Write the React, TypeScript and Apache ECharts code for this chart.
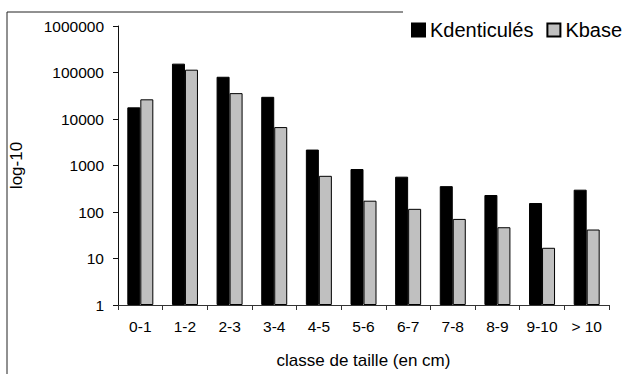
import React, { useEffect, useRef } from "react";
import * as echarts from "echarts";

const categories = ["0-1", "1-2", "2-3", "3-4", "4-5", "5-6", "6-7", "7-8", "8-9", "9-10", "> 10"];
const kdenticules = [17800, 155000, 81000, 30000, 2200, 840, 575, 360, 232, 156, 302];
const kbase = [26500, 115000, 36000, 6700, 600, 175, 117, 71, 47, 17, 42];
const seriesNames = ["Kdenticulés", "Kbase"];

const FONT = "'Liberation Sans', Arial, sans-serif";

export default function App() {
  const ref = useRef<HTMLDivElement>(null);
  useEffect(() => {
    if (!ref.current) return;
    const chart = echarts.init(ref.current, undefined, { renderer: "svg" });
    chart.setOption({
      animation: false,
      backgroundColor: "#ffffff",
      textStyle: { fontFamily: FONT, color: "#000" },
      legend: {
        left: 411,
        top: 20,
        padding: 0,
        itemWidth: 13,
        itemHeight: 13,
        itemGap: 13,
        icon: "rect",
        textStyle: { fontFamily: FONT, fontSize: 20, color: "#000" },
        data: seriesNames,
      },
      grid: { left: 115, top: 26, width: 494, height: 279, containLabel: false },
      xAxis: {
        type: "category",
        data: categories,
        name: "classe de taille (en cm)",
        nameLocation: "middle",
        nameGap: 47,
        nameTextStyle: { fontFamily: FONT, fontSize: 17, color: "#000" },
        axisLine: { show: true, lineStyle: { color: "#333", width: 1 } },
        axisTick: { show: true, length: 5, lineStyle: { color: "#333" } },
        axisLabel: { fontFamily: FONT, fontSize: 15.5, color: "#000", margin: 13, interval: 0 },
        splitLine: { show: false },
      },
      yAxis: {
        type: "log",
        logBase: 10,
        min: 1,
        max: 1000000,
        name: "log-10",
        nameLocation: "middle",
        nameGap: 93,
        nameTextStyle: { fontFamily: FONT, fontSize: 17, color: "#000" },
        axisLine: { show: true, lineStyle: { color: "#111", width: 1 } },
        axisTick: { show: true, length: 5, inside: false, lineStyle: { color: "#111" } },
        axisLabel: {
          fontFamily: FONT,
          fontSize: 15.5,
          color: "#000",
          margin: 14,
          formatter: (v: number) => String(Math.round(v)),
        },
        splitLine: { show: false },
        minorTick: { show: false },
      },
      series: [
        {
          name: seriesNames[0],
          type: "bar",
          data: kdenticules,
          barWidth: 13,
          barGap: "0%",
          itemStyle: { color: "#000000", borderColor: "#000000", borderWidth: 1 },
        },
        {
          name: seriesNames[1],
          type: "bar",
          data: kbase,
          barWidth: 13,
          barGap: "0%",
          itemStyle: { color: "#c0c0c0", borderColor: "#000000", borderWidth: 1 },
        },
      ],
      graphic: [
        { type: "line", shape: { x1: 7, y1: 12, x2: 403, y2: 12 }, style: { stroke: "#222", lineWidth: 1 } },
        { type: "line", shape: { x1: 7, y1: 12, x2: 7, y2: 374 }, style: { stroke: "#222", lineWidth: 1 } },
      ],
    });
    return () => chart.dispose();
  }, []);
  return (
    <div
      ref={ref}
      style={{ position: "fixed", left: 0, top: 0, width: 626, height: 374, background: "#fff" }}
    />
  );
}
